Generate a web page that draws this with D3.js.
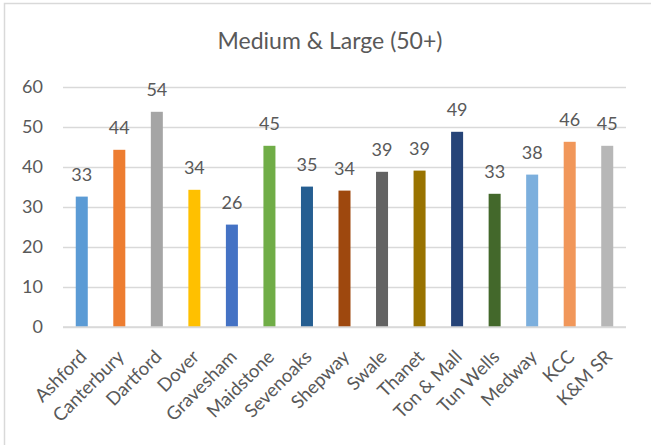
<!DOCTYPE html>
<html>
<head>
<meta charset="utf-8">
<script src="https://cdn.jsdelivr.net/npm/d3@7/dist/d3.min.js"></script>
<style>
  html, body { margin: 0; padding: 0; background: #ffffff; }
  svg { display: block; }
  text { font-family: Lato, "Open Sans", sans-serif; fill: #595959; }
</style>
</head>
<body>
<script>
// Medium & Large (50+) by district
const districts = ["Ashford", "Canterbury", "Dartford", "Dover", "Gravesham", "Maidstone",
  "Sevenoaks", "Shepway", "Swale", "Thanet", "Ton & Mall", "Tun Wells", "Medway", "KCC", "K&M SR"];
const values = [32.6, 44.3, 53.8, 34.3, 25.6, 45.3, 35.1, 34.1, 38.8, 39.1, 48.8, 33.3, 38.1, 46.3, 45.3];
const barColors = ["#5B9BD5", "#ED7D31", "#A5A5A5", "#FFC000", "#4472C4", "#70AD47",
  "#255E91", "#9E480E", "#636363", "#997300", "#264478", "#43682B", "#7CAFDD", "#F1975A", "#B7B7B7"];
const yTicks = [0, 10, 20, 30, 40, 50, 60];
const chartTitle = "Medium & Large (50+)";

const W = 651, H = 445;
const plot = { left: 63, right: 626, top: 87, bottom: 327 };

const svg = d3.select("body").append("svg").attr("width", W).attr("height", H);

// chart area frame (top and left edges visible)
svg.append("rect")
  .attr("x", 4.5).attr("y", 3.5)
  .attr("width", 700).attr("height", 500)
  .attr("fill", "#ffffff")
  .attr("stroke", "#D9D9D9").attr("stroke-width", 1.5);

const x = d3.scaleBand()
  .domain(districts)
  .range([plot.left, plot.right])
  .paddingInner(0.68)
  .paddingOuter(0.34);

const y = d3.scaleLinear().domain([0, 60]).range([plot.bottom, plot.top]);

// title
svg.append("text")
  .attr("x", 330).attr("y", 49)
  .attr("text-anchor", "middle")
  .style("font-size", "23px")
  .text(chartTitle);

// horizontal gridlines + y tick labels
const yAxis = d3.axisLeft(y).tickValues(yTicks).tickSize(-(plot.right - plot.left)).tickPadding(20).tickFormat(d3.format("d"));
const gy = svg.append("g").attr("transform", `translate(${plot.left},0)`).call(yAxis);
gy.select(".domain").remove();
gy.selectAll(".tick line").attr("stroke", "#D9D9D9").attr("stroke-width", 1.3);
gy.selectAll(".tick text")
  .attr("x", -20)
  .style("font-size", "18px")
  .style("font-family", "Lato, 'Open Sans', sans-serif")
  .attr("fill", "#595959");

// bars
svg.append("g").selectAll("rect")
  .data(districts)
  .join("rect")
  .attr("x", d => x(d))
  .attr("y", (d, i) => y(values[i]))
  .attr("width", x.bandwidth())
  .attr("height", (d, i) => y(0) - y(values[i]))
  .attr("fill", (d, i) => barColors[i]);

// baseline
svg.append("line")
  .attr("x1", plot.left).attr("x2", plot.right)
  .attr("y1", y(0)).attr("y2", y(0))
  .attr("stroke", "#D9D9D9").attr("stroke-width", 1.6);

// value labels
svg.append("g").selectAll("text")
  .data(districts)
  .join("text")
  .attr("x", d => x(d) + x.bandwidth() / 2)
  .attr("y", (d, i) => y(values[i]) - 16)
  .attr("text-anchor", "middle")
  .style("font-size", "18px")
  .text((d, i) => d3.format(".0f")(values[i]));

// rotated category labels
svg.append("g").selectAll("text")
  .data(districts)
  .join("text")
  .attr("transform", d => `translate(${x(d) + x.bandwidth() / 2 + 6},358) rotate(-45)`)
  .attr("text-anchor", "end")
  .style("font-size", "18.5px")
  .text(d => d);
</script>
</body>
</html>
